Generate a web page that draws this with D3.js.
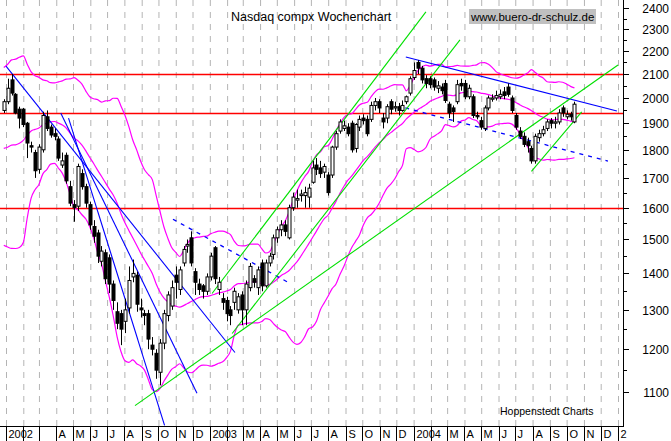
<!DOCTYPE html>
<html><head><meta charset="utf-8">
<script src="https://cdn.jsdelivr.net/npm/d3@7"></script>
<style>body{margin:0;background:#fff}svg{display:block;font-family:"Liberation Sans",Arial,sans-serif}</style>
</head><body><svg id="c" width="671" height="441"></svg>
<script>
const startDate = "2001-12-28";
const opens  = [1950,1985,2075,2015,1955,1955,1900,1815,1790,1730,1800,1925,1885,1860,1840,1745,1780,1670,1610,1605,1715,1670,1610,1540,1520,1435,1460,1445,1370,1295,1290,1270,1305,1390,1395,1305,1290,1290,1210,1190,1145,1215,1285,1310,1395,1355,1430,1480,1505,1405,1370,1365,1350,1390,1475,1355,1330,1325,1300,1320,1300,1340,1300,1360,1385,1360,1430,1365,1430,1455,1505,1530,1545,1505,1600,1625,1640,1640,1635,1685,1745,1735,1720,1710,1710,1810,1870,1880,1885,1900,1805,1885,1920,1915,1915,1970,1985,1920,1920,1985,1960,1965,1950,1985,2020,2085,2150,2125,2080,2080,2075,2040,2045,2060,1975,1960,1985,2060,2060,2005,2005,1930,1910,1880,1960,1995,2000,2005,2025,2045,2000,1930,1870,1850,1830,1805,1760,1845,1860,1880,1910,1900,1905,1960,1925,1935,1905];
const closes = [1985,2040,2020,1940,1920,1895,1825,1810,1725,1810,1930,1880,1855,1850,1770,1760,1690,1615,1600,1740,1670,1615,1545,1510,1450,1465,1385,1370,1325,1265,1250,1300,1380,1400,1315,1300,1285,1225,1200,1150,1215,1290,1340,1360,1375,1410,1470,1485,1430,1375,1355,1350,1390,1450,1385,1375,1320,1290,1285,1350,1335,1300,1370,1420,1375,1410,1365,1430,1450,1505,1530,1545,1525,1600,1635,1630,1645,1650,1665,1735,1730,1715,1740,1650,1810,1860,1905,1890,1860,1800,1895,1915,1910,1860,1970,1985,1960,1905,1965,1955,1965,1950,1970,2005,2080,2115,2125,2075,2060,2055,2045,2050,2030,1990,1940,1945,2055,2050,2005,2040,1930,1925,1885,1960,2000,2000,2010,2015,2010,2015,1950,1885,1850,1820,1815,1760,1850,1860,1875,1905,1900,1905,1940,1940,1935,1925,1975];
const highs  = [1995,2080,2100,2020,1965,1960,1905,1830,1800,1820,1945,1950,1895,1880,1850,1790,1790,1690,1625,1750,1730,1680,1620,1560,1530,1480,1470,1455,1380,1320,1300,1330,1420,1440,1405,1330,1300,1300,1230,1200,1225,1300,1350,1380,1420,1420,1480,1500,1525,1415,1385,1370,1400,1460,1480,1390,1345,1335,1310,1360,1345,1350,1380,1430,1395,1420,1440,1440,1460,1515,1540,1560,1560,1610,1650,1660,1660,1670,1680,1760,1770,1760,1750,1720,1815,1870,1915,1910,1900,1910,1900,1930,1935,1930,1985,2000,1995,1940,1975,1995,1985,1980,1990,2010,2090,2150,2160,2135,2095,2090,2085,2070,2060,2075,1985,1970,2075,2080,2075,2055,2015,1945,1925,1970,2010,2015,2030,2035,2045,2060,2010,1940,1885,1865,1845,1815,1860,1875,1890,1915,1920,1925,1955,1970,1950,1945,1985];
const lows   = [1940,1975,2010,1935,1880,1885,1770,1790,1700,1715,1790,1870,1845,1835,1760,1735,1680,1605,1555,1590,1660,1600,1530,1490,1430,1420,1370,1345,1300,1250,1210,1240,1290,1375,1295,1280,1260,1200,1185,1130,1115,1200,1270,1300,1330,1340,1420,1460,1420,1340,1340,1330,1340,1380,1370,1340,1300,1270,1260,1300,1290,1260,1260,1350,1360,1340,1350,1360,1420,1440,1490,1510,1510,1500,1590,1600,1620,1600,1600,1680,1710,1700,1700,1640,1700,1800,1860,1870,1850,1790,1790,1870,1895,1850,1905,1950,1940,1880,1900,1935,1945,1930,1945,1975,2010,2075,2100,2060,2040,2040,2030,2020,2015,1980,1920,1905,1975,2030,1995,1995,1920,1915,1875,1870,1950,1985,1990,1995,1995,2005,1940,1875,1840,1810,1790,1750,1750,1830,1850,1870,1880,1880,1895,1925,1915,1910,1900];
// weekly closes before the first drawn week (for the Bollinger bands)
const priorCloses = [1956,1867,1916,1805,1687,1423,1499,1605,1703,1671,1768,1745,1828,1898,1903,1930,2021,1953,1945];
const yTicks = [1100,1200,1300,1400,1500,1600,1700,1800,1900,2000,2100,2200,2300,2400];
const monthLabels = ["2002","","","A","M","J","J","A","S","O","N","D",
                     "2003","","M","A","M","J","J","A","S","O","N","D",
                     "2004","","M","A","M","J","J","A","S","O","N","D","2"];
const redLevels = [2100,1940,1600];
const blueLines = [[["2002-01-01",2134],["2003-02-15",1192]],[["2002-04-09",1940],["2002-12-09",1097]],[["2002-04-23",1920],["2002-10-12",1028]],[["2003-12-18",2174],["2004-12-30",1948]]];
const blueDashed = [[["2002-10-27",1563],["2003-05-21",1375]],[["2003-12-17",1960],["2004-12-14",1759]]];
const greenLines = [[["2003-01-05",1344],["2004-01-23",2383]],[["2003-02-10",1239],["2004-03-24",2251]],[["2002-08-20",1070],["2005-01-01",2139]],[["2004-07-30",1723],["2004-10-28",1944]]];

const svg = d3.select("#c");
const P = {l:0, r:623, t:0, b:426};
const x = d3.scaleTime().domain([new Date(2002,0,1), new Date(2005,0,1)]).range([6,618]);
const y = d3.scaleLog().domain([1100,2100]).range([392,74]);
const pd = s => { const [a,b,c]=s.split("-").map(Number); return new Date(a,b-1,c); };
const d0 = pd(startDate);
const dates = closes.map((_,i)=>d3.timeDay.offset(d0, 7*i));

svg.append("clipPath").attr("id","clip").append("rect").attr("x",0).attr("y",0).attr("width",P.r).attr("height",P.b);
const g = svg.append("g").attr("clip-path","url(#clip)");

// month grid
const months = d3.timeMonth.range(new Date(2002,0,1), new Date(2005,0,2));
g.selectAll(".grid").data(months).join("line").attr("x1",d=>x(d)+0.5).attr("x2",d=>x(d)+0.5)
 .attr("y1",0).attr("y2",P.b).attr("stroke","#b4b4b4").attr("stroke-dasharray","6,6");

// red levels
g.selectAll(".red").data(redLevels).join("line").attr("x1",0).attr("x2",P.r)
 .attr("y1",d=>Math.round(y(d))+0.5).attr("y2",d=>Math.round(y(d))+0.5).attr("stroke","#ff0000").attr("stroke-width",1.6);

// Bollinger bands (20 weeks, 2 sigma) computed from closes
const all = priorCloses.concat(closes);
const up=[],mid=[],lo=[];
closes.forEach((_,i)=>{ const j=i+priorCloses.length; const w=all.slice(j-19,j+1);
  const m=d3.mean(w), s=Math.sqrt(d3.mean(w,v=>(v-m)*(v-m)));
  up.push([dates[i],m+2*s]); mid.push([dates[i],m]); lo.push([dates[i],m-2*s]); });
const ln = d3.line().x(d=>x(d[0])).y(d=>y(d[1])).curve(d3.curveMonotoneX);
[up,mid,lo].forEach(b=>g.append("path").attr("d",ln(b)).attr("fill","none").attr("stroke","#ff00ff").attr("stroke-width",1.2));

// trend lines
const tl = d3.line().x(d=>x(pd(d[0]))).y(d=>y(d[1]));
blueLines.forEach(l=>g.append("path").attr("d",tl(l)).attr("stroke","#0000ff").attr("stroke-width",1.1).attr("fill","none"));
blueDashed.forEach(l=>g.append("path").attr("d",tl(l)).attr("stroke","#0000ff").attr("stroke-width",1.3).attr("stroke-dasharray","4,5").attr("fill","none"));
greenLines.forEach(l=>g.append("path").attr("d",tl(l)).attr("stroke","#00e000").attr("stroke-width",1.1).attr("fill","none"));

// candles
const cg = g.append("g");
closes.forEach((c,i)=>{
  const cx = Math.round(x(dates[i]))+0.5, o=opens[i];
  cg.append("line").attr("x1",cx).attr("x2",cx).attr("y1",y(highs[i])).attr("y2",y(lows[i])).attr("stroke","#000");
  const top=y(Math.max(o,c)), bot=y(Math.min(o,c));
  cg.append("rect").attr("x",cx-1.5).attr("y",top).attr("width",3).attr("height",Math.max(1,bot-top))
    .attr("fill", c>=o?"#fff":"#000").attr("stroke","#000").attr("stroke-width",1);
});

// axes
svg.append("line").attr("x1",P.r+0.5).attr("x2",P.r+0.5).attr("y1",0).attr("y2",P.b).attr("stroke","#000");
svg.append("line").attr("x1",0).attr("x2",P.r+1).attr("y1",P.b+0.5).attr("y2",P.b+0.5).attr("stroke","#000");
const ya = svg.append("g");
yTicks.forEach(v=>{ const yy=Math.round(y(v))+0.5;
  ya.append("line").attr("x1",P.r).attr("x2",P.r+6).attr("y1",yy).attr("y2",yy).attr("stroke","#000");
  ya.append("text").attr("x",669).attr("y",yy+4).attr("text-anchor","end").attr("font-size",12).text(v);
  const ym=Math.round(y(v+50))+0.5;
  if(v<2400) ya.append("line").attr("x1",P.r).attr("x2",P.r+4).attr("y1",ym).attr("y2",ym).attr("stroke","#000");
});
const xa = svg.append("g");
months.forEach((m,i)=>{ const xx=Math.round(x(m))+0.5;
  xa.append("line").attr("x1",xx).attr("x2",xx).attr("y1",P.b).attr("y2",441).attr("stroke","#000");
  if(monthLabels[i]) xa.append("text").attr("x",xx+2).attr("y",438).attr("font-size",11).text(monthLabels[i]);
});

svg.append("text").attr("x",231).attr("y",21).attr("font-size",12.5).text("Nasdaq compx Wochenchart");
svg.append("rect").attr("x",469).attr("y",9).attr("width",127).attr("height",15).attr("fill","#c0c0c0");
svg.append("text").attr("x",471).attr("y",21).attr("font-size",11.5).text("www.buero-dr-schulz.de");
svg.append("text").attr("x",500).attr("y",415).attr("font-size",10.5).text("Hoppenstedt Charts");
</script></body></html>
